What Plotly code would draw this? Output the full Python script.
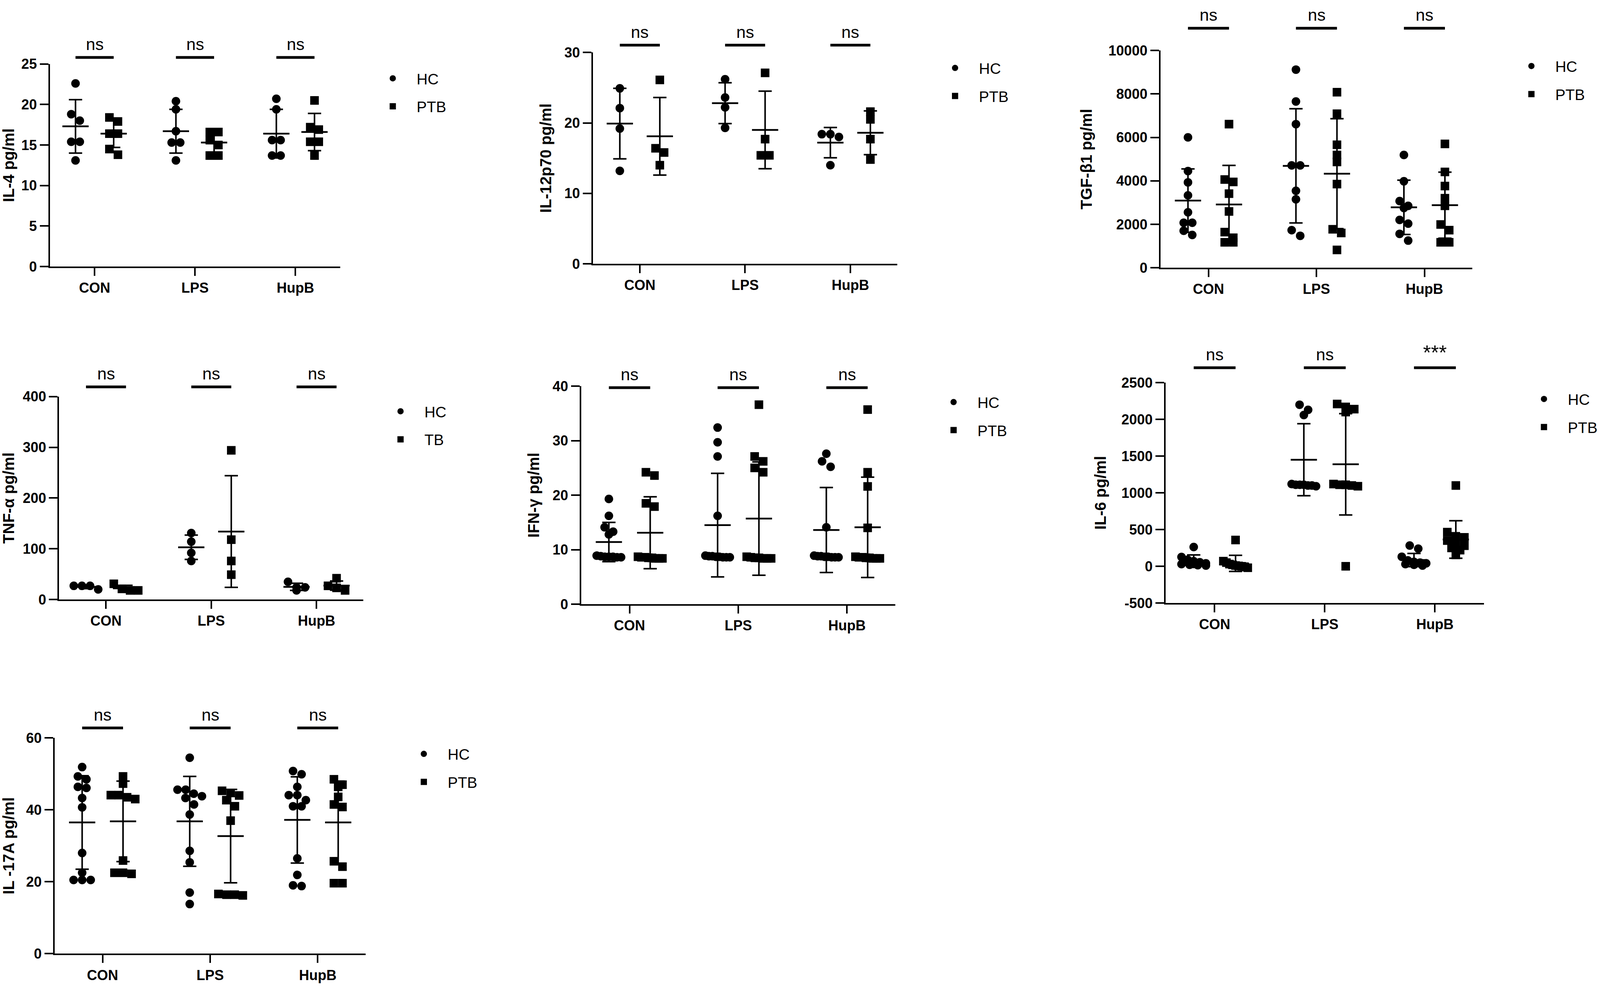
import plotly.graph_objects as go

W, H = 4328, 2541
FONT = "Liberation Sans"

categories = ["CON", "LPS", "HupB"]

# ---------------- data (values per category: CON, LPS, HupB) ----------------
# IL-4
il4_hc = [[22.6, 18.8, 18.0, 15.4, 15.4, 13.1],
          [20.4, 19.4, 16.7, 15.3, 15.3, 13.1],
          [20.7, 19.4, 15.6, 15.6, 13.7, 13.7]]
il4_ptb = [[18.4, 17.9, 16.4, 16.4, 14.5, 13.8],
           [16.6, 16.6, 15.6, 15.0, 13.7, 13.7],
           [20.5, 17.2, 16.9, 15.4, 15.4, 13.7]]
il4_hc_mean, il4_hc_sd = [17.3, 16.7, 16.4], [3.3, 2.7, 3.0]
il4_ptb_mean, il4_ptb_sd = [16.4, 15.3, 16.6], [1.7, 1.2, 2.3]

# IL-12p70
il12_hc = [[24.9, 22.1, 19.2, 13.2],
           [26.2, 23.6, 22.2, 19.3],
           [18.4, 18.4, 18.0, 14.0]]
il12_ptb = [[26.1, 16.4, 15.8, 14.0],
            [27.1, 17.7, 15.4, 15.4],
            [21.6, 20.5, 17.7, 14.8]]
il12_hc_mean, il12_hc_sd = [19.9, 22.8, 17.2], [5.0, 2.9, 2.15]
il12_ptb_mean, il12_ptb_sd = [18.1, 19.0, 18.6], [5.5, 5.5, 3.1]

# TGF-beta1
tgf_hc = [[6000, 4450, 3930, 3330, 2550, 2070, 2070, 1700, 1510],
          [9120, 7650, 6610, 4710, 4710, 3540, 3150, 1730, 1470],
          [5190, 3980, 3070, 2850, 2750, 2200, 2030, 1560, 1250]]
tgf_ptb = [[6610, 4060, 3950, 3410, 2590, 1640, 1380, 1170, 1170],
           [8080, 7090, 5660, 5190, 4870, 3850, 1770, 1600, 820],
           [5700, 4410, 3760, 3200, 2850, 1990, 1730, 1170, 1170]]
tgf_hc_mean, tgf_hc_sd = [3090, 4690, 2780], [1460, 2630, 1250]
tgf_ptb_mean, tgf_ptb_sd = [2910, 4330, 2880], [1800, 2530, 1520]

# TNF-alpha
tnf_hc = [[27, 27, 27, 20],
          [131, 114, 92, 76],
          [35, 24, 24, 18]]
tnf_tb = [[31, 21, 18, 18],
          [294, 118, 76, 49],
          [42, 27, 23, 18]]
tnf_hc_mean, tnf_hc_sd = [25, 103, 25], [3.5, 24, 7]
tnf_tb_mean, tnf_tb_sd = [22, 134, 27.5], [6, 110, 9]

# IFN-gamma
ifn_hc = [[19.3, 16.2, 14.1, 13.3, 12.8, 8.9, 8.8, 8.7, 8.7, 8.7, 8.6, 8.6],
          [32.4, 29.7, 27.1, 16.2, 8.9, 8.8, 8.8, 8.7, 8.7, 8.6, 8.6, 8.6],
          [27.6, 26.2, 25.2, 14.1, 8.9, 8.8, 8.8, 8.7, 8.7, 8.6, 8.6, 8.6]]
ifn_ptb = [[24.2, 23.6, 18.5, 17.9, 8.7, 8.6, 8.6, 8.5, 8.5, 8.4, 8.4, 8.4],
           [36.6, 27.1, 26.2, 25.0, 24.2, 8.7, 8.6, 8.5, 8.5, 8.4, 8.4, 8.4],
           [35.7, 24.2, 21.6, 14.0, 8.7, 8.6, 8.6, 8.5, 8.5, 8.4, 8.4, 8.4]]
ifn_hc_mean, ifn_hc_sd = [11.4, 14.5, 13.6], [3.6, 9.5, 7.8]
ifn_ptb_mean, ifn_ptb_sd = [13.1, 15.7, 14.1], [6.6, 10.4, 9.2]

# IL-6
il6_hc = [[262, 127, 90, 70, 55, 40, 30, 20, 15, 10],
          [2200, 2130, 2060, 1120, 1110, 1110, 1110, 1100, 1100, 1090],
          [282, 240, 130, 80, 60, 50, 40, 30, 20, 10]]
il6_ptb = [[358, 70, 50, 30, 20, 10, 5, 0, -10, -20],
           [2210, 2170, 2140, 2100, 1120, 1110, 1110, 1100, 1090, 0],
           [1100, 465, 408, 394, 350, 310, 280, 250, 220, 155]]
il6_hc_mean, il6_hc_sd = [70, 1451, 85], [85, 490, 90]
il6_ptb_mean, il6_ptb_sd = [40, 1389, 365], [110, 690, 255]

# IL-17A
il17_hc = [[51.9, 49.3, 48.5, 46.4, 46.1, 43.3, 40.7, 28.0, 22.5, 20.5, 20.5, 20.5],
           [54.5, 45.6, 45.6, 44.5, 43.8, 43.3, 41.5, 38.7, 28.6, 25.4, 17.0, 13.8],
           [50.8, 49.9, 46.4, 44.1, 44.1, 42.7, 41.0, 41.0, 26.5, 21.9, 19.0, 18.8]]
il17_ptb = [[49.3, 47.3, 44.1, 44.1, 43.5, 43.0, 25.9, 22.5, 22.5, 22.2],
            [45.3, 44.7, 44.0, 42.7, 41.0, 37.0, 16.6, 16.4, 16.4, 16.2],
            [48.5, 47.0, 46.4, 43.6, 41.5, 40.8, 25.7, 24.2, 19.6, 19.6]]
il17_hc_mean, il17_hc_sd = [36.5, 36.8, 37.2], [13.0, 12.5, 12.0]
il17_ptb_mean, il17_ptb_sd = [36.8, 32.7, 36.5], [11.2, 13.0, 11.5]

y_titles = ["IL-4 pg/ml", "IL-12p70 pg/ml", "TGF-\u03b21 pg/ml", "TNF-\u03b1 pg/ml",
            "IFN-\u03b3 pg/ml", "IL-6 pg/ml", "IL -17A pg/ml"]
y_ticks = [[0, 5, 10, 15, 20, 25], [0, 10, 20, 30], [0, 2000, 4000, 6000, 8000, 10000],
           [0, 100, 200, 300, 400], [0, 10, 20, 30, 40], [-500, 0, 500, 1000, 1500, 2000, 2500],
           [0, 20, 40, 60]]
group_names = [["HC", "PTB"]] * 3 + [["HC", "TB"]] + [["HC", "PTB"]] * 3
sig_labels = [["ns", "ns", "ns"]] * 5 + [["ns", "ns", "***"]] + [["ns", "ns", "ns"]]

data = [
    (il4_hc, il4_ptb, il4_hc_mean, il4_hc_sd, il4_ptb_mean, il4_ptb_sd),
    (il12_hc, il12_ptb, il12_hc_mean, il12_hc_sd, il12_ptb_mean, il12_ptb_sd),
    (tgf_hc, tgf_ptb, tgf_hc_mean, tgf_hc_sd, tgf_ptb_mean, tgf_ptb_sd),
    (tnf_hc, tnf_tb, tnf_hc_mean, tnf_hc_sd, tnf_tb_mean, tnf_tb_sd),
    (ifn_hc, ifn_ptb, ifn_hc_mean, ifn_hc_sd, ifn_ptb_mean, ifn_ptb_sd),
    (il6_hc, il6_ptb, il6_hc_mean, il6_hc_sd, il6_ptb_mean, il6_ptb_sd),
    (il17_hc, il17_ptb, il17_hc_mean, il17_hc_sd, il17_ptb_mean, il17_ptb_sd),
]

# ---------------- layout (pixel geometry of each panel, reference px) ----------------
boxes = [(135, 920, 146, 673), (1604, 2427, 116, 666), (3139, 3983, 111, 676),
         (160, 983, 1011, 1539), (1572, 2422, 984, 1551), (3153, 4014, 975, 1548),
         (148, 989, 1899, 2460)]
bar_y = [129, 97, 53, 986, 988, 936, 1873]
legend_pos = [(1061, 183), (2582, 156), (4141, 151), (1082, 1049), (2578, 1025),
              (4175, 1017), (1145, 1940)]
title_standoff = [22, 22, 30, 28, 22, 28, 22]

XR = [-0.445, 2.445]
OFF = 0.19
DIAM = 22


def swarm(vals, ypp, xpp):
    order = sorted(range(len(vals)), key=lambda i: -vals[i])
    offs = [0.0] * len(vals)
    clusters = []
    for i in order:
        if clusters and abs(vals[clusters[-1][0]] - vals[i]) * ypp < 0.8 * DIAM:
            clusters[-1].append(i)
        else:
            clusters.append([i])
    for c in clusters:
        n = len(c)
        step = min(DIAM * 1.05, DIAM * 3.0 / (n - 1)) if n > 1 else 0
        for k, i in enumerate(c):
            offs[i] = (k - (n - 1) / 2) * step / xpp
    return offs


fig = go.Figure()
shapes, annotations = [], []
layout = dict(autosize=True, margin=dict(l=0, r=0, t=0, b=0, pad=0),
              paper_bgcolor="white", plot_bgcolor="white", showlegend=True,
              font=dict(family=FONT, color="black"))

for p in range(7):
    hc, tb, hm, hs, tm, ts = data[p]
    L, R, T, B = boxes[p]
    ticks = y_ticks[p]
    yr = [ticks[0], ticks[-1]]
    ypp = (B - T) / (yr[1] - yr[0])
    xpp = (R - L) / (XR[1] - XR[0])
    ax = "" if p == 0 else str(p + 1)
    xref, yref = "x" + ax, "y" + ax
    leg = "legend" if p == 0 else "legend" + str(p + 1)

    for g, (vals, sym, sign) in enumerate([(hc, "circle", -1), (tb, "square", 1)]):
        xs, ys = [], []
        for c in range(3):
            offs = swarm(vals[c], ypp, xpp)
            xs += [c + sign * OFF + o for o in offs]
            ys += vals[c]
        fig.add_trace(go.Scatter(
            x=xs, y=ys, mode="markers", name=group_names[p][g],
            marker=dict(symbol=sym, size=DIAM, color="black", line=dict(width=0)),
            xaxis=xref, yaxis=yref, legend=leg, legendgroup=f"p{p}g{g}",
            cliponaxis=False))
    for g, (means, sds, sign) in enumerate([(hm, hs, -1), (tm, ts, 1)]):
        fig.add_trace(go.Scatter(
            x=[c + sign * OFF for c in range(3)], y=means, mode="markers",
            marker=dict(symbol="line-ew", size=48, color="black",
                        line=dict(width=4.5, color="black")),
            error_y=dict(type="data", array=sds, visible=True, color="black",
                         thickness=4, width=17),
            xaxis=xref, yaxis=yref, showlegend=False, hoverinfo="skip",
            cliponaxis=False))

    layout["xaxis" + ax] = dict(
        domain=[L / W, R / W], range=XR, anchor=yref, tickmode="array",
        tickvals=[0, 1, 2], ticktext=categories, ticks="outside", ticklen=20,
        tickwidth=4, tickcolor="black", showline=True, linewidth=4, linecolor="black",
        showgrid=False, zeroline=False, fixedrange=True,
        tickfont=dict(family=FONT, size=36, color="black", weight="bold"))
    layout["yaxis" + ax] = dict(
        domain=[1 - B / H, 1 - T / H], range=yr, anchor=xref, tickmode="array",
        tickvals=ticks, ticktext=[str(t) for t in ticks], ticks="outside", ticklen=22,
        tickwidth=4, tickcolor="black", showline=True, linewidth=4, linecolor="black",
        showgrid=False, zeroline=False, fixedrange=True,
        tickfont=dict(family=FONT, size=36, color="black", weight="bold"),
        title=dict(text=y_titles[p], standoff=title_standoff[p],
                   font=dict(family=FONT, size=40, color="black", weight="bold")))

    for c in range(3):
        shapes.append(dict(type="line", xref=xref, yref="paper",
                           x0=c - OFF, x1=c + OFF, y0=1 - bar_y[p] / H, y1=1 - bar_y[p] / H,
                           line=dict(color="black", width=7)))
        lab = sig_labels[p][c]
        annotations.append(dict(
            text=lab, xref=xref, yref="paper", x=c, y=1 - (bar_y[p] - 8) / H,
            xanchor="center", yanchor="bottom", showarrow=False,
            font=dict(family=FONT, size=52 if lab != "ns" else 43, color="black")))

    mx, my = legend_pos[p]
    layout[leg] = dict(x=(mx - 63) / W, y=1 - (my - 32) / H, xanchor="left", yanchor="top",
                       bgcolor="rgba(0,0,0,0)", borderwidth=0, itemsizing="trace",
                       tracegroupgap=18, itemwidth=112,
                       font=dict(family=FONT, size=39, color="black"))

layout["shapes"] = shapes
layout["annotations"] = annotations
fig.update_layout(**layout)

post = ("document.documentElement.style.margin='0';document.body.style.margin='0';"
        "document.body.style.overflow='hidden';"
        "var gd=document.getElementById('{plot_id}');"
        "gd.style.width='100vw';gd.style.height='100vh';"
        "Plotly.Plots.resize(gd);")
fig.write_html("out.html", config={"responsive": True, "displayModeBar": False},
               default_width="100vw", default_height="100vh", post_script=post)
